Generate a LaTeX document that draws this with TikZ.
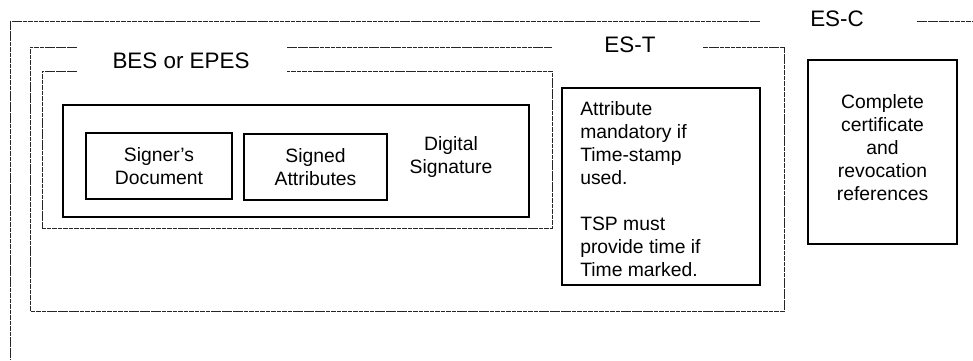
\documentclass[tikz,border=0pt]{standalone}
\usepackage{fontspec}
\setmainfont{Liberation Sans}
\tikzset{
  frame/.style={line width=0.7pt, black!85, dash pattern=on 3.5pt off 0.6pt},
  solidbox/.style={draw, line width=1.8pt, inner sep=0pt},
  body/.style={font=\fontsize{14.5}{17.25}\selectfont, inner sep=0pt},
  tag/.style={font=\fontsize{16.8}{20}\selectfont, inner sep=0pt},
}
\begin{document}
\begin{tikzpicture}[x=0.75pt, y=-0.75pt]
\useasboundingbox (0,0) rectangle (973,360);

% ES-C frame (runs off the right and bottom edges)
\draw[frame] (760,21) -- (10,21) -- (10,360);
\draw[frame] (917,21) -- (973,21);
\node[tag] (esc) at (837,19) {ES-C};

% ES-T frame
\draw[frame] (77,47) -- (30,47) -- (30,311) -- (784,311) -- (784,47) -- (703,47);
\draw[frame] (287,47) -- (552,47);
\node[tag] (est) at (630,45) {ES-T};

% BES or EPES frame
\draw[frame] (77,71) -- (42,71) -- (42,228) -- (552,228) -- (552,71) -- (287,71);
\node[tag] (bes) at (181,61) {BES or EPES};

% digital signature and its parts
\node[solidbox, minimum width=466*0.75pt, minimum height=112*0.75pt] (sig) at (296,161) {};
\node[solidbox, body, align=center, minimum width=146*0.75pt, minimum height=66*0.75pt] (doc) at (159,166) {Signer's\\Document};
\node[solidbox, body, align=center, minimum width=143*0.75pt, minimum height=66*0.75pt] (attr) at (315.5,167) {Signed\\Attributes};
\node[body, align=center] (sigtext) at (451,157) {Digital\\Signature};

% time-stamp attribute
\node[solidbox, minimum width=198*0.75pt, minimum height=197*0.75pt] (ts) at (661,186.5) {};
\node[body, align=left, anchor=north west] (tstext) at (580,101)
  {Attribute\\mandatory if\\Time-stamp\\used.\\[17.25pt]TSP must\\provide time if\\Time marked.};

% complete validation data references
\node[solidbox, minimum width=149*0.75pt, minimum height=184*0.75pt] (refs) at (882.5,152) {};
\node[body, align=center] (refstext) at (882.5,148)
  {Complete\\certificate\\and\\revocation\\references};
\end{tikzpicture}
\end{document}
